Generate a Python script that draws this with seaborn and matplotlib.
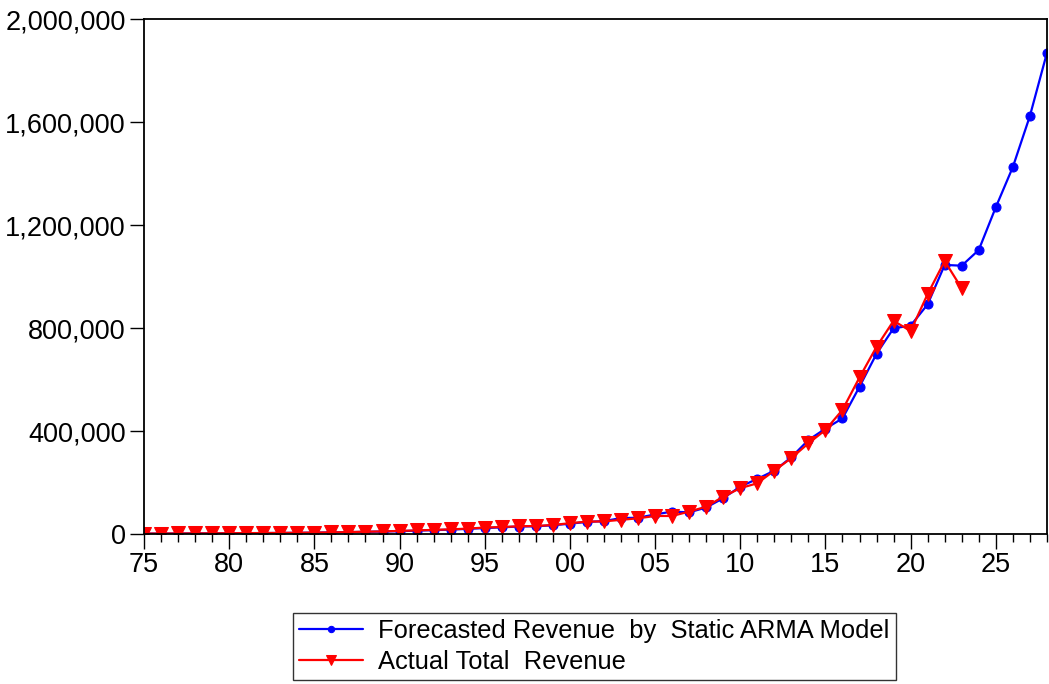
import matplotlib
matplotlib.use("Agg")
import matplotlib.pyplot as plt
import matplotlib.ticker as mticker
import seaborn as sns
import numpy as np

# years on the x axis
forecast_years = list(range(1975, 2029))
actual_years = list(range(1975, 2024))

# values
forecast = [1200, 1500, 1800, 2100, 2400, 2800, 3200, 3600, 4000, 4500,
            5200, 6000, 7000, 8500, 9500, 11000, 13000, 15000, 17000, 20000,
            23000, 26000, 29000, 30000, 34000, 40000, 47000, 50000, 62000, 63000,
            76000, 87000, 84000, 103000, 139000, 184000, 214000, 246000, 298000, 365000,
            409000, 449000, 572000, 700000, 799000, 809000, 892000, 1045000, 1042000, 1103000,
            1269000, 1425000, 1623000, 1868000]
actual = [1500, 1800, 2000, 2300, 2600, 3000, 3500, 3800, 4200, 4800,
          5500, 6200, 7500, 9000, 10000, 12000, 14000, 16000, 18000, 21000,
          25000, 27000, 30000, 31000, 35000, 42000, 48000, 49000, 55000, 61000,
          70000, 70000, 87000, 106000, 145000, 178000, 197000, 246000, 295000, 352000,
          404000, 482000, 608000, 727000, 828000, 788000, 932000, 1060000, 954000]

tick_years = [1975, 1980, 1985, 1990, 1995, 2000, 2005, 2010, 2015, 2020, 2025]
tick_labels = ["75", "80", "85", "90", "95", "00", "05", "10", "15", "20", "25"]
y_ticks = [0, 400000, 800000, 1200000, 1600000, 2000000]

sns.set_style("white")
plt.rcParams["font.family"] = ["Liberation Sans", "DejaVu Sans"]

fig = plt.figure(figsize=(10.49, 6.84), dpi=100)
ax = fig.add_axes([0.1373, 0.2193, 0.8607, 0.7529])

sns.lineplot(x=forecast_years, y=forecast, ax=ax, color="#0000ff",
             marker="o", markersize=6.5, markeredgecolor="#0000ff",
             linewidth=1.6, label="Forecasted Revenue  by  Static ARMA Model")
sns.lineplot(x=actual_years, y=actual, ax=ax, color="#ff0000",
             marker="v", markersize=9.5, markeredgecolor="#ff0000",
             linewidth=1.6, label="Actual Total  Revenue")

ax.set_xlim(1975, 2028)
ax.set_ylim(0, 2000000)
ax.set_xticks(tick_years)
ax.set_xticklabels(tick_labels)
ax.xaxis.set_minor_locator(mticker.MultipleLocator(1))
ax.set_yticks(y_ticks)
ax.yaxis.set_major_formatter(mticker.FuncFormatter(lambda v, p: f"{int(v):,}"))

ax.tick_params(axis="both", which="major", direction="out", length=10,
               width=1, color="black", labelsize=19.5, labelcolor="black", pad=3)
ax.tick_params(axis="x", which="minor", direction="out", length=6,
               width=1, color="black", bottom=True)
ax.tick_params(axis="x", which="major", length=11, pad=2)
ax.tick_params(left=True, bottom=True)

for s in ax.spines.values():
    s.set_color("black")
    s.set_linewidth(1.3)

ax.grid(False)
ax.set_xlabel("")
ax.set_ylabel("")

leg = ax.legend(loc="upper center", bbox_to_anchor=(0.499, -0.153),
                frameon=True, fancybox=False, fontsize=18.4, ncol=1,
                handlelength=2.5, markerscale=0.7, borderpad=0.25,
                labelspacing=0.25, handletextpad=0.6, borderaxespad=0)
leg.get_frame().set_edgecolor("black")
leg.get_frame().set_linewidth(1.0)
for t in leg.get_texts():
    t.set_color("black")

fig.savefig("out.png", dpi=100)
